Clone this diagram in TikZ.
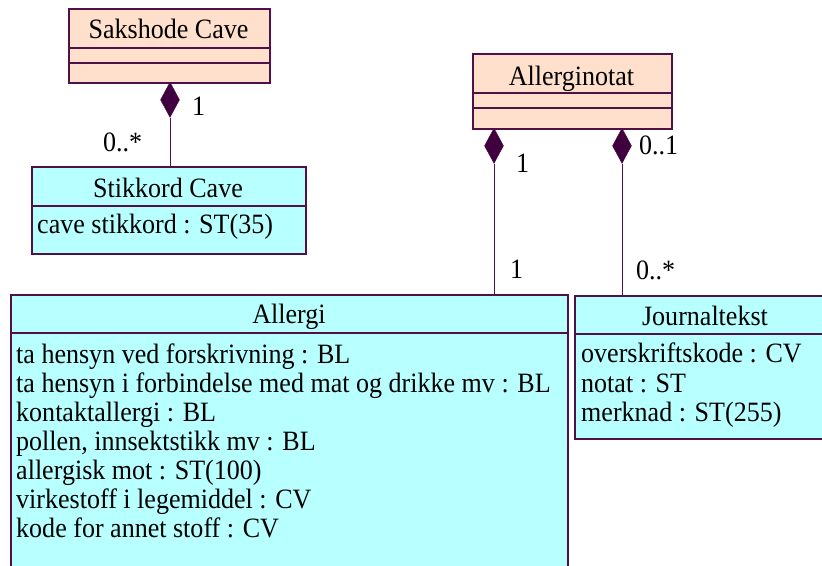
\documentclass[tikz,border=0pt]{standalone}
\usepackage{fontspec}
\setmainfont{Liberation Serif}[FakeStretch=0.93]
\usetikzlibrary{shapes.geometric}
\definecolor{peach}{RGB}{255,224,204}
\definecolor{cyanfill}{RGB}{184,255,255}
\definecolor{umlline}{RGB}{80,16,72}
\definecolor{diafill}{RGB}{64,0,64}
\newcommand{\umlfont}{\fontsize{28}{29.3}\selectfont}
\begin{document}
\begin{tikzpicture}[x=1pt,y=-1pt,
  box/.style={draw=umlline, line width=1.5pt, inner sep=0pt, anchor=north west},
  peachbox/.style={box, fill=peach},
  cyanbox/.style={box, fill=cyanfill},
  sep/.style={draw=umlline, line width=1.1pt},
  title/.style={anchor=base, inner sep=0pt, font=\umlfont},
  attr/.style={anchor=base west, inner sep=0pt, font=\umlfont},
  mult/.style={anchor=base west, inner sep=0pt, font=\umlfont},
  agg/.style={diamond, draw=umlline, fill=diafill, minimum width=19pt, minimum height=35pt, inner sep=0pt, line width=0.6pt, anchor=north},
  conn/.style={draw=umlline, line width=1pt}]
\useasboundingbox (0,0) rectangle (822,565);
\clip (0,0) rectangle (822,565);

% Sakshode Cave
\node[peachbox, minimum width=201pt, minimum height=74pt] (sak) at (68,8) {};
\draw[sep] ([yshift=-40pt]sak.north west) -- ([yshift=-40pt]sak.north east);
\draw[sep] ([yshift=-55pt]sak.north west) -- ([yshift=-55pt]sak.north east);
\node[title] (sakT) at (168.5,38) {Sakshode Cave};

% Stikkord Cave
\node[cyanbox, minimum width=274pt, minimum height=87pt] (stik) at (31,166) {};
\draw[sep] ([yshift=-40pt]stik.north west) -- ([yshift=-40pt]stik.north east);
\node[title] (stikT) at (168,197) {Stikkord Cave};
\node[attr] (stikA) at (37,233) {cave stikkord : ST(35)};

% Allerginotat
\node[peachbox, minimum width=199pt, minimum height=75pt] (anot) at (472,53) {};
\draw[sep] ([yshift=-40pt]anot.north west) -- ([yshift=-40pt]anot.north east);
\draw[sep] ([yshift=-55pt]anot.north west) -- ([yshift=-55pt]anot.north east);
\node[title] (anotT) at (571.5,85) {Allerginotat};

% Allergi
\node[cyanbox, minimum width=557pt, minimum height=290pt] (all) at (10,294) {};
\draw[sep] ([yshift=-39pt]all.north west) -- ([yshift=-39pt]all.north east);
\node[title] (allT) at (289,323) {Allergi};
\node[attr] (a1) at (16,363) {ta hensyn ved forskrivning : BL};
\node[attr] (a2) at (16,392) {ta hensyn i forbindelse med mat og drikke mv : BL};
\node[attr] (a3) at (16,421) {kontaktallergi : BL};
\node[attr] (a4) at (16,450) {pollen, innsektstikk mv : BL};
\node[attr] (a5) at (16,479) {allergisk mot : ST(100)};
\node[attr] (a6) at (16,508) {virkestoff i legemiddel : CV};
\node[attr] (a7) at (16,537) {kode for annet stoff : CV};

% Journaltekst
\node[cyanbox, minimum width=262pt, minimum height=143pt] (jour) at (574,295) {};
\draw[sep] ([yshift=-39pt]jour.north west) -- ([yshift=-39pt]jour.north east);
\node[title] (jourT) at (705,325) {Journaltekst};
\node[attr] (j1) at (581,362) {overskriftskode : CV};
\node[attr] (j2) at (581,392) {notat : ST};
\node[attr] (j3) at (581,421) {merknad : ST(255)};

% Aggregations
\node[agg] (d1) at (170,82) {};
\draw[conn] (d1.south) -- (d1.south |- stik.north);
\node[mult] (m1) at (192,115) {1};
\node[mult] (m2) at (103,151) {0..*};

\node[agg] (d2) at (494,128) {};
\draw[conn] (d2.south) -- (d2.south |- all.north);
\node[mult] (m3) at (516,172) {1};
\node[mult] (m4) at (510,278) {1};

\node[agg] (d3) at (622,128) {};
\draw[conn] (d3.south) -- (d3.south |- jour.north);
\node[mult] (m5) at (639,154) {0..1};
\node[mult] (m6) at (636,279) {0..*};
\end{tikzpicture}
\end{document}
